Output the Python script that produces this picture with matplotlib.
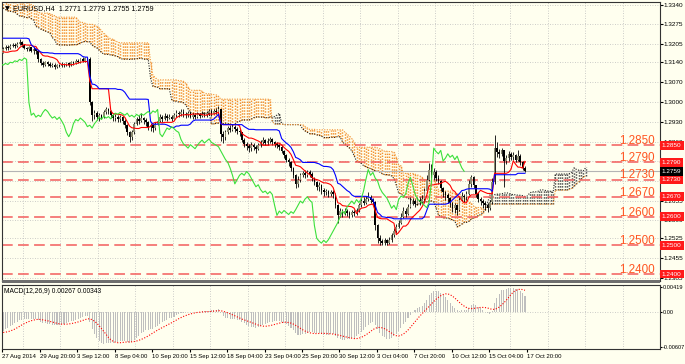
import numpy as np
import pandas as pd
import matplotlib.pyplot as plt
import matplotlib.transforms as mtransforms
from matplotlib.patches import Rectangle

plt.rcParams['font.family'] = ['Liberation Sans', 'DejaVu Sans']

# EURUSD H4, prices written as pips over 1.0000 (3188 -> 1.3188)
# 8 Aug - 26 Aug 2014: off screen, only feeds the cloud / kijun / MACD at the left edge
pre_close = [3405, 3398, 3388, 3402, 3420, 3412, 3410, 3415, 3405, 3398, 3402, 3395,
             3392, 3385, 3372, 3362, 3368, 3366, 3368, 3372, 3360, 3348, 3355, 3360,
             3362, 3370, 3380, 3372, 3360, 3365, 3368, 3385, 3420, 3390, 3400, 3402,
             3390, 3380, 3372, 3385, 3378, 3375, 3368, 3352, 3338, 3322, 3318, 3315,
             3310, 3300, 3288, 3276, 3266, 3262, 3262, 3268, 3276, 3282, 3274, 3270,
             3265, 3258, 3272, 3290, 3248, 3238, 3205, 3195, 3188, 3196, 3190, 3186,
             3182, 3175, 3168, 3158, 3165, 3172]
pre_high = [3412, 3410, 3400, 3410, 3430, 3425, 3416, 3420, 3418, 3410, 3408, 3405,
            3398, 3395, 3388, 3375, 3372, 3372, 3372, 3380, 3378, 3365, 3362, 3365,
            3368, 3378, 3388, 3390, 3375, 3370, 3375, 3392, 3445, 3425, 3410, 3408,
            3402, 3395, 3385, 3395, 3390, 3382, 3378, 3370, 3356, 3342, 3328, 3322,
            3318, 3312, 3302, 3292, 3280, 3270, 3270, 3275, 3284, 3290, 3286, 3278,
            3272, 3268, 3280, 3298, 3294, 3252, 3215, 3208, 3200, 3205, 3204, 3196,
            3190, 3186, 3180, 3172, 3170, 3178]
pre_low = [3396, 3390, 3382, 3385, 3400, 3405, 3404, 3405, 3400, 3392, 3395, 3390,
           3385, 3380, 3365, 3350, 3355, 3360, 3360, 3365, 3355, 3340, 3342, 3350,
           3355, 3358, 3365, 3345, 3352, 3355, 3360, 3365, 3380, 3370, 3385, 3395,
           3385, 3375, 3365, 3368, 3370, 3370, 3360, 3345, 3330, 3315, 3310, 3308,
           3302, 3292, 3280, 3268, 3258, 3255, 3252, 3258, 3266, 3272, 3266, 3262,
           3258, 3250, 3255, 3268, 3238, 3230, 3190, 3185, 3178, 3182, 3182, 3180,
           3175, 3168, 3160, 3150, 3152, 3160]

# 27 Aug - 17 Oct 2014, one value per visible bar
close_pips = [3188, 3195, 3190, 3198, 3202, 3196, 3204, 3212, 3200, 3190, 3185, 3192, 3180, 3186, 3178, 3150,
              3138, 3132, 3140, 3135, 3128, 3132, 3125, 3130, 3128, 3134, 3130, 3136, 3132, 3140, 3138, 3145,
              3142, 3150, 3146, 3155, 3150, 3000, 2955, 2962, 2948, 2955, 2950, 2965, 2975, 2968, 2955, 2945,
              2950, 2940, 2948, 2935, 2920, 2895, 2880, 2895, 2925, 2940, 2935, 2945, 2938, 2930, 2915, 2920,
              2910, 2925, 2935, 2948, 2940, 2952, 2945, 2950, 2942, 2955, 2962, 2958, 2965, 2960, 2955, 2962,
              2950, 2955, 2948, 2958, 2952, 2960, 2955, 2962, 2968, 2960, 2970, 2965, 2975, 2890, 2880, 2895,
              2910, 2905, 2915, 2908, 2900, 2895, 2870, 2855, 2848, 2840, 2852, 2845, 2838, 2850, 2860, 2868,
              2858, 2865, 2872, 2860, 2855, 2850, 2845, 2830, 2815, 2800, 2790, 2770, 2745, 2715, 2730, 2745,
              2752, 2745, 2758, 2750, 2735, 2720, 2705, 2712, 2695, 2685, 2690, 2680, 2688, 2678, 2640, 2605,
              2620, 2612, 2622, 2615, 2608, 2618, 2612, 2625, 2640, 2655, 2648, 2662, 2670, 2658, 2650, 2570,
              2525, 2515, 2508, 2518, 2510, 2520, 2535, 2550, 2565, 2580, 2600, 2620, 2610, 2635, 2645, 2655,
              2645, 2660, 2650, 2662, 2690, 2730, 2765, 2745, 2755, 2735, 2725, 2700, 2685, 2675, 2665, 2648,
              2630, 2640, 2625, 2660, 2672, 2668, 2680, 2715, 2738, 2710, 2680, 2662, 2655, 2648, 2640, 2632,
              2650, 2720, 2840, 2828, 2820, 2832, 2795, 2805, 2820, 2808, 2815, 2800, 2812, 2790, 2771, 2759]
high_pips = [3195, 3200, 3200, 3205, 3208, 3206, 3210, 3222, 3215, 3202, 3195, 3198, 3195, 3192, 3190, 3180,
             3155, 3145, 3146, 3145, 3140, 3138, 3136, 3135, 3134, 3140, 3138, 3142, 3140, 3145, 3146, 3150,
             3152, 3156, 3158, 3160, 3160, 3158, 3005, 2972, 2968, 2962, 2960, 2972, 2985, 2980, 2972, 2960,
             2958, 2955, 2954, 2952, 2940, 2925, 2900, 2905, 2932, 2948, 2955, 2962, 2950, 2945, 2935, 2928,
             2925, 2932, 2945, 2958, 2955, 2962, 2960, 2958, 2955, 2962, 2972, 2970, 2978, 2975, 2965, 2970,
             2968, 2962, 2960, 2965, 2962, 2968, 2966, 2970, 2978, 2975, 2978, 2980, 2986, 2978, 2900, 2905,
             2918, 2920, 2925, 2920, 2915, 2908, 2898, 2875, 2862, 2855, 2860, 2858, 2850, 2858, 2868, 2878,
             2872, 2875, 2880, 2876, 2865, 2860, 2856, 2850, 2835, 2820, 2805, 2795, 2775, 2750, 2742, 2752,
             2760, 2765, 2765, 2762, 2755, 2740, 2725, 2720, 2715, 2700, 2698, 2695, 2695, 2692, 2682, 2645,
             2630, 2628, 2630, 2628, 2622, 2625, 2625, 2632, 2648, 2665, 2668, 2672, 2686, 2675, 2665, 2655,
             2575, 2535, 2522, 2525, 2522, 2528, 2542, 2560, 2575, 2590, 2612, 2635, 2630, 2645, 2668, 2665,
             2662, 2670, 2668, 2675, 2700, 2745, 2788, 2785, 2770, 2762, 2745, 2730, 2705, 2690, 2682, 2670,
             2652, 2648, 2645, 2668, 2685, 2680, 2690, 2728, 2745, 2742, 2712, 2685, 2668, 2662, 2655, 2648,
             2660, 2735, 2886, 2862, 2838, 2842, 2835, 2815, 2830, 2828, 2825, 2820, 2832, 2818, 2795, 2779]
low_pips = [3172, 3182, 3184, 3186, 3192, 3190, 3194, 3200, 3195, 3185, 3178, 3180, 3175, 3170, 3168, 3142,
            3130, 3125, 3128, 3128, 3122, 3124, 3118, 3120, 3122, 3124, 3125, 3126, 3125, 3128, 3132, 3135,
            3136, 3138, 3140, 3142, 3144, 2990, 2935, 2940, 2938, 2935, 2940, 2945, 2960, 2958, 2945, 2935,
            2935, 2930, 2932, 2925, 2910, 2885, 2862, 2870, 2890, 2920, 2925, 2930, 2925, 2918, 2905, 2900,
            2898, 2905, 2920, 2930, 2932, 2938, 2936, 2940, 2935, 2940, 2948, 2950, 2952, 2950, 2945, 2950,
            2945, 2942, 2940, 2945, 2944, 2948, 2948, 2950, 2955, 2952, 2958, 2958, 2960, 2865, 2858, 2870,
            2890, 2895, 2900, 2898, 2890, 2882, 2860, 2845, 2835, 2825, 2830, 2835, 2822, 2835, 2845, 2855,
            2850, 2852, 2858, 2852, 2845, 2840, 2835, 2822, 2805, 2790, 2778, 2760, 2735, 2700, 2705, 2720,
            2738, 2735, 2740, 2738, 2725, 2710, 2695, 2690, 2680, 2672, 2675, 2670, 2672, 2665, 2630, 2578,
            2598, 2600, 2605, 2602, 2595, 2600, 2603, 2608, 2618, 2635, 2640, 2645, 2655, 2648, 2640, 2555,
            2510, 2502, 2500, 2503, 2500, 2505, 2512, 2530, 2545, 2560, 2575, 2595, 2598, 2605, 2630, 2640,
            2635, 2640, 2642, 2645, 2655, 2685, 2725, 2735, 2730, 2725, 2715, 2690, 2670, 2660, 2648, 2635,
            2618, 2615, 2608, 2622, 2655, 2650, 2660, 2675, 2705, 2700, 2670, 2650, 2640, 2632, 2625, 2618,
            2625, 2645, 2715, 2810, 2805, 2812, 2705, 2785, 2795, 2798, 2800, 2790, 2795, 2780, 2765, 2755]

levels = [1.2850, 1.2790, 1.2730, 1.2670, 1.2600, 1.2500, 1.2400]
last_price = 1.2759
price_ticks = [1.3340, 1.3275, 1.3205, 1.3140, 1.3070, 1.3000, 1.2930, 1.2860,
               1.2795, 1.2725, 1.2655, 1.2590, 1.2525, 1.2455, 1.2385]
date_labels = ['27 Aug 2014', '29 Aug 20:00', '3 Sep 12:00', '8 Sep 04:00', '10 Sep 20:00',
               '15 Sep 12:00', '18 Sep 04:00', '23 Sep 04:00', '25 Sep 20:00', '30 Sep 12:00',
               '3 Oct 04:00', '7 Oct 20:00', '10 Oct 12:00', '15 Oct 04:00', '17 Oct 20:00']
macd_ticks = [0.00419, 0.0, -0.00607]
macd_tick_labels = ['0.00419', '0.00', '-0.00607']

# ---- series ----
npre = len(pre_close)
c = 1 + np.array(pre_close + close_pips) / 1e4
h = 1 + np.array(pre_high + high_pips) / 1e4
l = 1 + np.array(pre_low + low_pips) / 1e4
o = np.r_[c[0], c[:-1]]
h = np.maximum(h, np.maximum(o, c))
l = np.minimum(l, np.minimum(o, c))
xs = np.arange(len(c)) - npre


def midline(k):
    hi = pd.Series(h).rolling(k).max()
    lo = pd.Series(l).rolling(k).min()
    return ((hi + lo) / 2).to_numpy()


tenkan = midline(9)
kijun = midline(26)
span_a = (tenkan + kijun) / 2
span_b = midline(52)

s = pd.Series(c)
macd = (s.ewm(span=12, adjust=False).mean() - s.ewm(span=26, adjust=False).mean()).to_numpy()
signal = pd.Series(macd).rolling(9).mean().to_numpy()

vis = xs >= 0

# ---- figure ----
W, H = 685, 364
BG = '#FFFFEF'
GRID = '#BDBDBD'
ORANGE = '#F39230'
fig = plt.figure(figsize=(W / 100, H / 100), dpi=100)
fig.patch.set_facecolor(BG)
ax = fig.add_axes([2 / W, 83 / H, 658 / W, 279 / H])
axm = fig.add_axes([2 / W, 15 / H, 658 / W, 64 / H], sharex=ax)
for a in (ax, axm):
    a.set_facecolor(BG)
    for sp in a.spines.values():
        sp.set_color('#333333')
        sp.set_linewidth(0.8)

px = 2.34  # pixels per bar
ax.set_xlim(-0.5, -0.5 + 658 / px)
ax.set_ylim(1.33575 - 281 / 2862, 1.33575 - 2 / 2862)

# grid
grid_x = np.arange(8.3, 281, 16.03)
for a in (ax, axm):
    for gx in grid_x:
        a.axvline(gx, color=GRID, lw=0.6, dashes=(1, 2), zorder=0)
for t in price_ticks:
    ax.axhline(t, color=GRID, lw=0.6, dashes=(1, 2), zorder=0)
axm.axhline(0, color=GRID, lw=0.6, dashes=(1, 2), zorder=0)

# cloud
xc = xs + 26
ok = ~np.isnan(span_a) & ~np.isnan(span_b) & (xc >= 0)
cols = np.where(span_b[ok] > span_a[ok], ORANGE, '#4A4A4A')
ax.vlines(xc[ok], np.minimum(span_a[ok], span_b[ok]), np.maximum(span_a[ok], span_b[ok]),
          colors=cols, lw=1.05, linestyles=[(0, (1, 1))], zorder=1)
ax.plot(xc[ok], span_a[ok], color='#222222', lw=0.8, ls=(0, (1, 1.3)), zorder=2)
ax.plot(xc[ok], span_b[ok], color=ORANGE, lw=0.8, ls=(0, (1, 1.3)), zorder=2)

# support / resistance
for lev in levels:
    ax.axhline(lev, color='#F25C5C', lw=1.1, dashes=(7, 3.5), zorder=2)
    ax.text((655 - 2) / px - 0.5, lev + 1.2 / 2862, f'{lev:.4f}', color='#FF5522',
            fontsize=8.4, ha='right', va='baseline', zorder=6)
ax.axhline(last_price, color='#B4B4B4', lw=0.8, zorder=2)

# candles
xv, ov, cv, hv, lv = xs[vis], o[vis], c[vis], h[vis], l[vis]
ax.vlines(xv, lv, hv, color='black', lw=0.6, zorder=3)
body_col = np.where(cv >= ov, '#8C8C72', 'black')
ax.bar(xv, cv - ov, bottom=ov, width=0.7, color=body_col, edgecolor='none', zorder=4)

# ichimoku lines
ax.plot(xs[vis], tenkan[vis], color='red', lw=0.8, zorder=5)
ax.plot(xs[vis], kijun[vis], color='blue', lw=0.8, zorder=5)
ax.plot(xs - 26, c, color='#3BE03B', lw=0.8, zorder=5)

# right price scale
ax.yaxis.tick_right()
ax.set_yticks(price_ticks)
ax.set_yticklabels([f'{t:.4f}' for t in price_ticks])
ax.tick_params(axis='y', labelsize=4.6, length=2, pad=0.8, colors='black')
ax.tick_params(axis='x', bottom=False, labelbottom=False)
tr = mtransforms.blended_transform_factory(ax.transAxes, ax.transData)
for lev in levels:
    ax.text(1.003, lev, f'{lev:.4f}', transform=tr, color='white', fontsize=4.6, ha='left',
            va='center', clip_on=False, zorder=7,
            bbox=dict(boxstyle='square,pad=0.3', fc='#FF1A1A', ec='none'))
ax.text(1.003, last_price, f'{last_price:.4f}', transform=tr, color='white', fontsize=4.6,
        ha='left', va='center', clip_on=False, zorder=7,
        bbox=dict(boxstyle='square,pad=0.3', fc='black', ec='none'))

ax.text(0.004, 0.985, '\u25bc', transform=ax.transAxes, fontsize=4.5, va='top', ha='left',
        family=['DejaVu Sans'])
ax.text(0.016, 0.988, 'EURUSD,H4  1.2771 1.2779 1.2755 1.2759', transform=ax.transAxes,
        fontsize=5.2, va='top', ha='left')

# MACD panel
axm.bar(xs[vis], macd[vis], width=0.45, color='#BEBEBE', zorder=2)
axm.plot(xs[vis], signal[vis], color='red', lw=0.8, ls=(0, (1, 1.5)), zorder=3)
axm.set_ylim(-0.00641, 0.00453)
axm.yaxis.tick_right()
axm.set_yticks(macd_ticks)
axm.set_yticklabels(macd_tick_labels)
axm.tick_params(axis='y', labelsize=4.1, length=1.5, pad=0.6)
axm.text(0.003, 0.96, 'MACD(12,26,9) 0.00267 0.00343', transform=axm.transAxes,
         fontsize=4.8, va='top', ha='left')
label_x = np.arange(len(date_labels)) * 16 - 0.3
axm.set_xticks(label_x)
axm.set_xticklabels(date_labels, ha='left')
axm.tick_params(axis='x', labelsize=4.3, length=2, pad=1.5)

# window separator
fig.add_artist(Rectangle((2 / W, 81 / H), 658 / W, 3 / H, transform=fig.transFigure,
                         fc='#6E6E6E', ec='none'))

fig.savefig('out.png', dpi=100, facecolor=BG)
